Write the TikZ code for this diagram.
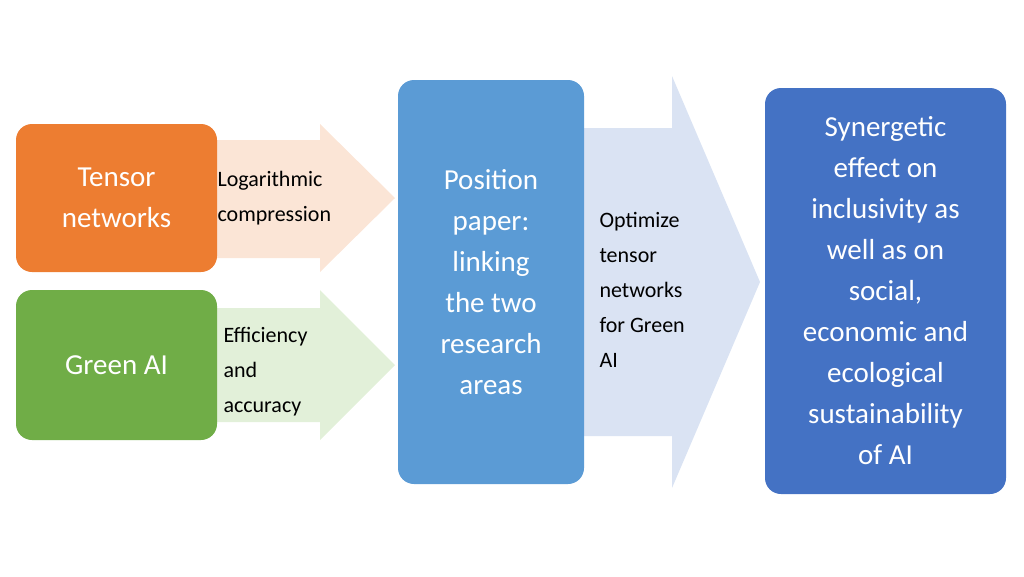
\documentclass[tikz,border=0pt]{standalone}
\usepackage{fontspec}
\setmainfont{Carlito}
\usetikzlibrary{positioning}
\definecolor{orangebox}{RGB}{237,125,49}
\definecolor{greenbox}{RGB}{112,173,71}
\definecolor{bluebox}{RGB}{91,155,213}
\definecolor{darkbox}{RGB}{68,114,196}
\definecolor{orangearrow}{RGB}{251,229,214}
\definecolor{greenarrow}{RGB}{226,240,217}
\definecolor{bluearrow}{RGB}{218,227,243}
\tikzstyle{block} = [
    rectangle,
    rounded corners=16pt,
    text=white,
    align=center,
    font=\fontsize{29}{41}\selectfont
]
\tikzstyle{label} = [
    align=left,
    anchor=west,
    font=\fontsize{22}{35}\selectfont
]
\begin{document}
\begin{tikzpicture}[x=1pt,y=-1pt]
    \useasboundingbox (0,0) rectangle (1024,576);
    % arrows
    \fill[orangearrow] (217,140) -- (320,140) -- (320,124) -- (395,198) -- (320,272) -- (320,258) -- (217,258) -- cycle;
    \fill[greenarrow] (217,308) -- (320,308) -- (320,290) -- (395,365) -- (320,440) -- (320,422) -- (217,422) -- cycle;
    \fill[bluearrow] (584,128) -- (672,128) -- (672,76) -- (760,282) -- (672,488) -- (672,436) -- (584,436) -- cycle;
    % boxes
    \node[block, fill=orangebox, minimum width=201pt, minimum height=148pt] (tensor) at (116.5,198) {Tensor\\networks};
    \node[block, fill=greenbox, minimum width=201pt, minimum height=150pt] (green) at (116.5,365) {Green AI};
    \node[block, fill=bluebox, minimum width=186pt, minimum height=404pt] (paper) at (491,282) {Position\\paper:\\linking\\the two\\research\\areas};
    \node[block, fill=darkbox, minimum width=241pt, minimum height=406pt] (effect) at (885.5,291) {Synergetic\\effect on\\inclusivity as\\well as on\\social,\\economic and\\ecological\\sustainability\\of AI};
    % arrow labels
    \node[label] (compress) at (214,198) {Logarithmic\\compression};
    \node[label] (efficiency) at (220,372) {Efficiency\\and\\accuracy};
    \node[label] (optimize) at (596,290) {Optimize\\tensor\\networks\\for Green\\AI};
\end{tikzpicture}
\end{document}
